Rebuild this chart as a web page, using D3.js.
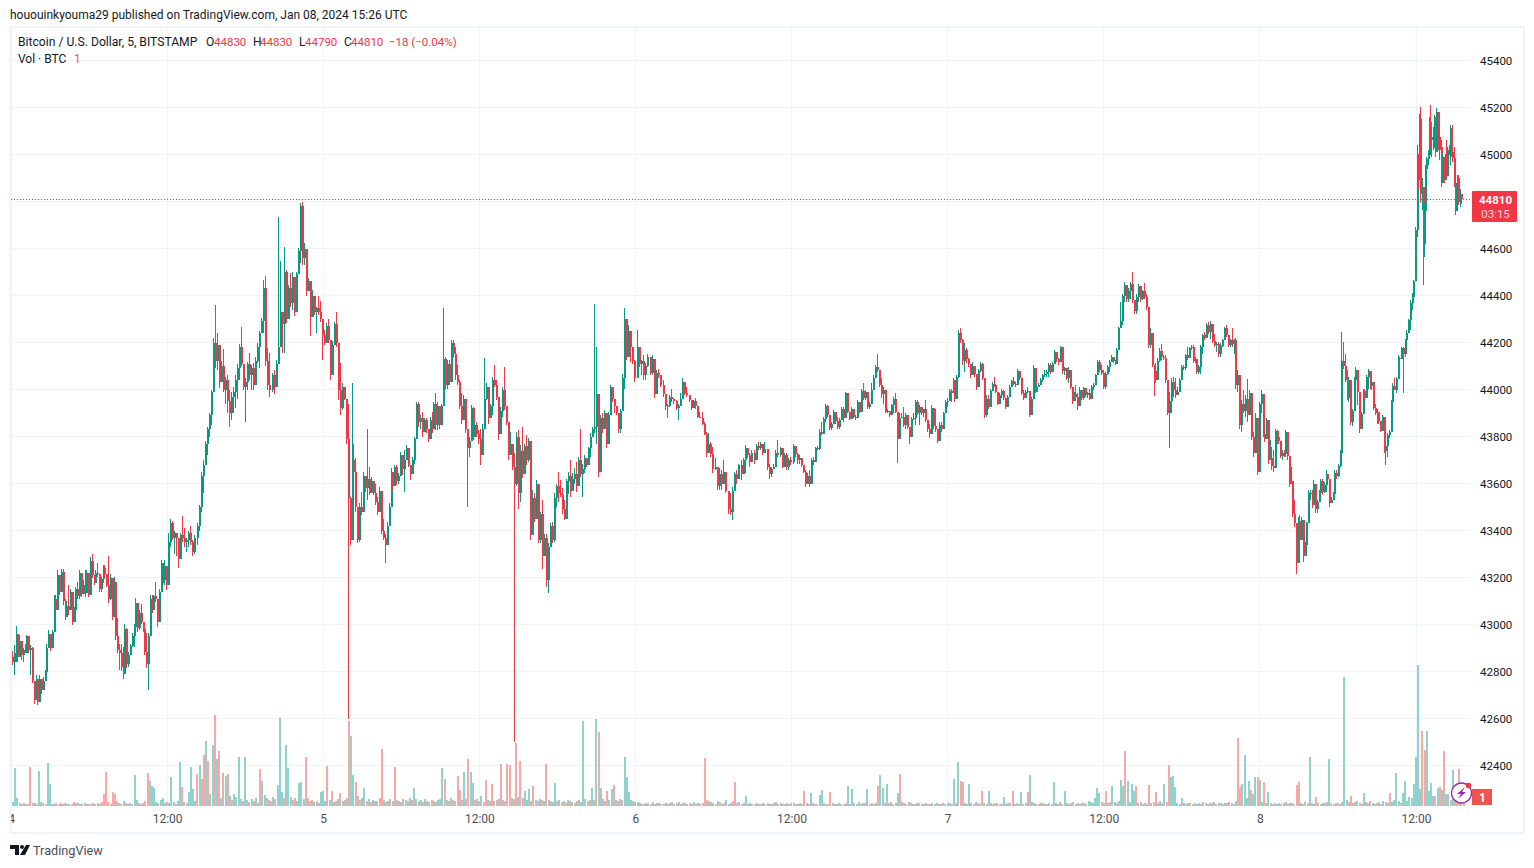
<!DOCTYPE html>
<html>
<head>
<meta charset="utf-8">
<script src="https://cdn.jsdelivr.net/npm/d3@7"></script>
<style>
  html, body { margin: 0; padding: 0; background: #fff; overflow: hidden; }
  text { font-family: Roboto, sans-serif; }
</style>
</head>
<body>
<svg id="chart" width="1534" height="868"></svg>
<script>
// values, one set of arrays per 12 hour stretch
const highsA = [42887,42912,42993,42926,42957,42919,42898,42915,42957,42926,
  42912,42905,42749,42787,42742,42785,42770,42775,42806,42919,
  42976,42933,42976,43125,43125,43231,43175,43238,43238,43110,
  43090,43167,43153,43118,43075,43160,43182,43234,43189,43189,
  43231,43231,43182,43288,43299,43196,43231,43260,43182,43203,
  43252,43252,43203,43291,43217,43125,43203,43075,43026,42919,
  42919,42905,43004,42983,42884,42919,42962,43004,43111,43018,
  43061,43089,43004,42983,42962,42962,43125,43125,43125,43182,
  43097,43153,43274,43231,43274,43238];
const lowsA = [42827,42785,42841,42841,42862,42848,42841,42877,42884,42877,
  42785,42749,42661,42692,42657,42692,42706,42725,42785,42792,
  42905,42888,42926,42976,43047,43097,43125,43182,43082,43018,
  43054,43040,43118,42997,43018,43068,43110,43110,43118,43132,
  43118,43182,43118,43139,43196,43167,43182,43203,43139,43139,
  43175,43203,43160,43090,43104,43018,43061,42933,42877,42806,
  42803,42770,42891,42813,42820,42877,42905,42905,42969,42969,
  42976,43004,42969,42870,42813,42721,42997,43047,43082,43097,
  42990,43097,43167,43175,43167,43146];
const closesA = [42840,42880,42960,42860,42930,42870,42890,42880,42950,42890,
  42900,42760,42680,42770,42670,42770,42720,42760,42800,42900,
  42960,42900,42970,43110,43060,43210,43140,43225,43100,43030,
  43080,43060,43140,43010,43060,43150,43120,43220,43130,43170,
  43135,43220,43125,43270,43210,43175,43220,43215,43150,43195,
  43240,43215,43170,43110,43200,43030,43180,42950,42890,42880,
  42820,42790,42980,42830,42870,42910,42950,42990,43090,42985,
  43050,43010,42980,42885,42830,42950,43110,43060,43120,43110,
  43010,43140,43260,43190,43250,43170];
const volumesA = [4,38,8,3,-2,-3,2,-2,-39,-3,3,-2,
  35,4,-3,2,43,22,2,-2,3,-2,-3,2,
  -3,2,2,-2,-4,3,-3,2,-2,3,-2,2,
  -2,-3,2,3,-2,-4,-12,-34,-4,2,-14,-12,
  -5,3,-2,5,-3,2,3,-2,31,6,-3,2,
  -3,-5,-33,25,20,18,4,-3,6,8,3,-4];

const highsB = [43390,43450,43440,43400,43380,43370,43390,43460,43410,
  43370,43400,43420,43360,43380,43430,43510,43650,43700,
  43780,43840,43900,44000,44219,44360,44240,44155,44122,44172,
  44055,44060,44000,43990,44010,44060,44110,44194,44268,44084,
  44050,44119,44155,44105,44112,44140,44197,44247,44304,44467,
  44484,44176,44155,44070,44084,44126,44736,44547,44304,44608,
  44509,44445,44495,44502,44445,44502,44601,44793,44796,44623,
  44530,44474,44424,44424,44396,44353,44399,44375,
  44240];
const lowsB = [43290,43330,43360,43300,43290,43240,43280,43350,43330,
  43310,43330,43340,43290,43300,43340,43400,43480,43560,
  43680,43720,43800,43850,43999,44091,44084,44006,44041,43990,
  43940,43900,43840,43870,43900,43920,43960,44041,44098,43999,
  43860,43999,44041,43999,43999,44027,44112,44091,44240,44240,
  44098,43999,43970,43990,43980,44041,44126,44311,44155,44155,
  44282,44367,44353,44339,44311,44424,44530,44538,44530,44530,
  44396,44424,44226,44311,44318,44240,44318,44289,
  44126];
const closesB = [43350,43430,43370,43390,43370,43280,43380,43370,43350,
  43360,43390,43350,43310,43370,43420,43500,43630,43680,
  43770,43830,43890,43990,44200,44120,44190,44030,44100,44000,
  44040,43950,43900,43970,43990,44040,44090,44180,44110,44010,
  44030,44110,44060,44090,44020,44120,44180,44240,44290,44430,
  44120,44020,44000,44060,44010,44110,44180,44330,44280,44500,
  44300,44430,44370,44480,44330,44490,44590,44780,44560,44600,
  44420,44460,44310,44400,44330,44345,44330,44300,
  44230];
const volumesB = [3,29,4,-2,5,44,-19,-4,3,14,39,17,
  5,-32,41,-27,-51,65,-45,12,61,-91,47,-55,
  8,-33,30,-32,10,-6,12,9,49,7,-5,49,
  6,-4,7,-5,8,3,-37,25,11,-8,6,-5,
  9,-7,21,88,14,-8,61,38,9,-6,-8,5,
  23,24,7,-49,-8,5,-6,4,-5,3,14,15];

const highsC = [44254,44282,44300,44169,44205,44288,44328,44196,
  44111,44026,44004,43948,43940,43543,44026,43770,43707,43458,
  43515,43565,43650,43614,43834,43671,43629,43593,43600,43543,
  43586,43487,43451,43387,43437,43515,43664,43650,43678,43678,
  43643,43735,43707,43742,43763,43728,43671,43714,43799,43948,
  43948,43891,43905,43877,43877,43834,43884,43905,43948,43983,
  43948,43884,43940,44345,44139,44125,44125,44210,44210,44182,
  44104,44040,43983,43976,43891,43792,43799,43933,43926,43862,
  43862,43827];
const lowsC = [44190,44197,44197,44041,44105,44210,44182,43955,
  43891,43912,43955,43770,42600,43338,43395,43629,43480,43345,
  43352,43465,43529,43565,43529,43550,43572,43550,43508,43465,
  43508,43387,43359,43260,43338,43451,43515,43572,43600,43593,
  43600,43671,43636,43565,43700,43671,43614,43643,43685,43799,
  43841,43834,43799,43834,43813,43777,43799,43813,43884,43827,
  43827,43834,43884,43962,44004,44004,44019,44111,44139,44040,
  44019,43919,43855,43870,43813,43501,43714,43877,43785,43799,
  43799,43770];
const closesC = [44200,44270,44210,44060,44190,44280,44200,44000,
  43920,44010,43960,43790,43540,43360,43700,43650,43500,43360,
  43500,43480,43630,43580,43620,43560,43610,43560,43520,43480,
  43570,43400,43370,43340,43420,43500,43650,43590,43670,43610,
  43630,43720,43660,43700,43750,43680,43640,43700,43790,43940,
  43860,43880,43820,43870,43830,43790,43870,43830,43940,43850,
  43930,43850,43930,44130,44020,44110,44030,44200,44150,44060,
  44030,43930,43870,43960,43830,43750,43780,43920,43800,43850,
  43810,43790];
const volumesC = [5,-40,6,-15,4,-5,7,-13,5,-6,8,-85,
  70,31,-24,10,-6,8,18,-5,7,-4,6,-5,
  5,-8,-57,6,-4,5,-7,5,-39,6,-5,4,
  -7,6,-5,8,-6,18,7,-5,6,-4,7,-5,
  4,-6,5,-4,6,7,38,-27,6,-5,8,-6,
  5,-30,-16,6,34,-7,-47,34,23,-6,7,-5];

const highsD = [43834,43855,44132,44026,43983,43940,44054,44104,44040,43969,
  43926,44011,44096,43912,43848,43820,43742,43728,43820,43827,
  43763,43841,43770,43805,43792,43600,43572,43558,43615,43416,
  43480,43529,43387,43387,43345,43430,43437,43558,43600,43650,
  43614,43579,43529,43621,43650,43702,43643,43664,43692,43714,
  43834,43685,43721,43685,43756,43813,43841,44365,44180,43841,
  43891,43898,43912,43898,43905,44019,43983,43955,43926,43862,
  43919,44068,44345,44288,44274,44196,44153,44125];
const lowsD = [43678,43721,43933,43955,43855,43891,43891,44011,43955,43785,
  43813,43884,43912,43848,43699,43742,43657,42500,43590,43490,
  43522,43622,43707,43678,43693,43359,43387,43437,43488,43345,
  43345,43238,43295,43160,43135,43345,43345,43352,43502,43522,
  43543,43472,43444,43522,43557,43543,43579,43600,43565,43600,
  43628,43543,43643,43671,43742,43714,43813,43813,43770,43629,
  43785,43813,43848,43749,43848,43926,43948,43898,43891,43813,
  43813,43919,44004,44125,44160,44118,44110,44033];
const closesD = [43720,43830,43960,44010,43880,43930,44040,44020,43970,43810,
  43910,44000,43930,43860,43720,43770,43670,43600,43800,43560,
  43740,43640,43760,43700,43780,43380,43540,43450,43600,43360,
  43470,43290,43370,43190,43330,43420,43360,43540,43590,43560,
  43550,43490,43450,43610,43630,43570,43620,43640,43590,43700,
  43640,43660,43710,43680,43750,43800,43830,43840,43980,43650,
  43880,43830,43900,43770,43890,44010,43960,43930,43900,43830,
  43910,44050,44300,44140,44250,44180,44120,44050];
const volumesD = [10,-4,-26,6,-5,-22,5,-6,7,-42,6,-5,
  -42,-41,8,-7,-63,9,-45,-8,15,6,17,-5,
  -20,6,-5,7,-6,5,-42,6,-5,4,23,-5,
  6,-4,5,-3,6,-5,4,-3,5,-6,4,85,
  7,-5,6,18,-6,87,-74,18,7,-5,-15,6,
  17,-21,6,-5,7,-6,49,29,14,6,-5,4];

const highsE = [44252,44167,44125,44146,44111,44153,44118,44146,44054,44082,
  44089,44061,44040,43976,43940,43976,44004,43962,43955,43940,
  43983,44051,44004,44009,43976,43933,43955,43962,
  43919,43905,43905,43862,43820,43813,43777,43756,43707,43664,
  43664,43657,43700,43650,43529,43558,43586,43650,43657,43685,
  43700,43707,43763,43749,43728,43742,43742,43770,43777,43777,
  43756,43777,43707,43685,43671,43685,43742,43787,43756,43700,
  43728,43731,43707,43714];
const lowsE = [44167,44096,44061,44040,44040,44096,44061,44061,43962,44019,
  44047,44011,43969,43912,43877,43926,43948,43940,43912,43870,
  43955,43983,43976,43969,43948,43912,43926,43919,
  43877,43877,43848,43806,43714,43756,43714,43643,43657,43572,
  43572,43572,43636,43558,43472,43465,43444,43600,43600,43643,
  43614,43657,43643,43707,43671,43700,43685,43728,43742,43742,
  43721,43742,43657,43621,43629,43664,43700,43714,43714,43664,
  43700,43657,43657,43678];
const closesE = [44180,44110,44120,44060,44100,44140,44070,44130,43980,44070,
  44060,44020,43980,43930,43930,43970,43960,43950,43920,43930,
  43960,44030,43985,43975,43955,43920,43950,43930,
  43885,43880,43855,43810,43730,43770,43725,43660,43670,43590,
  43640,43600,43650,43570,43490,43480,43570,43640,43620,43680,
  43640,43700,43750,43720,43690,43730,43700,43760,43750,43770,
  43730,43745,43670,43640,43660,43670,43730,43720,43750,43670,
  43720,43670,43700,43690];
const volumesE = [4,-3,2,-2,3,-3,2,4,-2,3,-3,2,
  -2,3,2,-3,4,-2,3,-4,2,-3,3,-2,
  -3,2,4,-2,-3,-2,3,-48,-6,5,-4,3,
  -2,5,-4,2,-3,6,-2,3,-5,-24,-3,4,
  -2,3,10,-2,3,-2,2,-3,2,-2,3,-2,
  3,-2,2,-3,4,-2,3,-2,2,-3,2,-3];

const highsF = [43770,43749,43728,43721,43707,43671,43657,43643,43657,43707,
  43714,43756,43759,43834,43862,43884,43940,43933,43862,43862,
  43912,43891,43884,43877,43926,43926,43990,43983,43905,43926,
  43912,43891,43955,43919,44004,44026,43997,43976,43948,44026,
  44061,44104,44150,44075,44047,44011,43926,43919,43898,43940,
  43969,43983,43855,43898,43898,43926,43898,43870,43827,43884,
  43898,43955,43955,43933,43926,43919,43955,43855,43855,43933,
  43877,43919,43827,43862,43862,43905,43955,43962];
const lowsF = [43685,43714,43685,43685,43671,43643,43586,43607,43586,43657,
  43678,43714,43742,43742,43806,43834,43862,43884,43827,43827,
  43855,43855,43834,43834,43870,43862,43926,43898,43870,43884,
  43877,43870,43898,43898,43948,43955,43955,43919,43919,43997,
  43997,44047,44075,44011,43962,43940,43898,43898,43884,43898,
  43898,43898,43688,43792,43877,43841,43834,43834,43770,43813,
  43870,43848,43891,43848,43891,43884,43862,43820,43792,43855,
  43834,43820,43773,43785,43820,43855,43898,43926];
const closesF = [43760,43725,43700,43710,43680,43650,43600,43630,43600,43700,
  43690,43750,43745,43820,43810,43875,43930,43890,43835,43855,
  43905,43865,43840,43870,43915,43880,43985,43905,43875,43915,
  43885,43880,43945,43905,43995,43965,43990,43925,43940,44000,
  44050,44095,44085,44020,43980,44000,43905,43910,43890,43935,
  43960,43905,43790,43880,43885,43850,43890,43840,43800,43875,
  43880,43945,43900,43925,43900,43915,43870,43830,43810,43920,
  43845,43830,43780,43850,43830,43900,43945,43950];
const volumesF = [3,-2,2,-3,2,-15,3,-2,13,-3,2,-2,
  11,16,-3,2,-2,-14,3,-2,2,-3,2,-2,
  3,20,-2,17,3,-2,4,-2,3,-3,17,-2,
  3,-2,3,-20,31,18,-3,22,-3,4,-2,3,
  13,-32,-4,3,-2,4,-3,2,-2,3,-3,2,
  -2,3,-2,2,-3,2,3,-2,2,-3,2,3];

const highsG = [44004,44004,44047,44033,44061,44252,44260,44217,44196,44175,
  44132,44104,44118,44075,44061,44089,44118,44111,44033,43976,
  43976,44004,44033,44054,44004,43983,43983,44004,43997,43955,
  43976,44019,44040,44054,44033,44087,44075,44026,43997,43997,
  44011,43933,43969,44104,44019,44019,44026,44047,44068,44082,
  44082,44111,44111,44118,44167,44153,44132,44185,44139,44097,
  44068,44097,44033,44011,43990,44019,43983,44011,43990,44011,
  43990,43990,44004,44019,44026,44068,44125,44125,44104,44082];
const lowsG = [43983,43948,43997,43948,44040,44047,44196,44104,44075,44111,
  44096,44047,44082,44054,43997,44054,44075,44040,43877,43884,
  43919,43962,44004,44011,43983,43933,43955,43962,43955,43919,
  43940,43997,44019,44019,44011,44047,44040,43976,43955,43976,
  43983,43881,43940,43983,43983,43990,44011,44019,44033,44054,
  44054,44054,44068,44089,44111,44118,44104,44153,44068,44061,
  44040,44026,44004,43940,43955,43962,43912,43955,43955,43955,
  43969,43962,43955,43990,43997,44026,44061,44075,44061,44004];
const closesG = [43995,43985,44040,43960,44055,44240,44210,44120,44170,44130,
  44110,44060,44100,44065,44010,44080,44110,44050,43890,43960,
  43925,43995,44025,44020,43990,43940,43975,43995,43965,43925,
  43970,44010,44035,44025,44020,44080,44050,43985,43965,43990,
  43995,43890,43960,44090,43990,44010,44020,44040,44060,44065,
  44075,44105,44075,44110,44160,44130,44115,44180,44080,44090,
  44050,44085,44010,43950,43980,43970,43930,44000,43965,44005,
  43975,43985,43960,44010,44020,44060,44115,44085,44070,44010];
const volumesG = [3,-2,27,-3,44,-25,-24,3,-2,22,3,-2,
  4,-3,2,-15,3,-2,15,-3,2,-3,3,-2,
  2,9,-2,3,-3,-15,2,-3,2,14,-2,3,
  -14,31,4,-3,2,-2,3,-3,2,-2,3,-2,
  24,3,-2,4,-2,15,-3,2,-3,4,-2,3,
  -2,3,-3,2,5,4,3,8,18,13,-4,3];

const highsH = [44075,44104,44125,44146,44132,44125,44175,44267,44373,44408,
  44458,44401,44430,44458,44499,44373,44408,44448,44423,44423,
  44455,44408,44338,44260,44196,44099,44111,44132,44175,44193,
  44146,44146,44033,43990,44047,44054,44047,44011,44047,44104,
  44104,44153,44182,44182,44189,44189,44139,44111,44104,44189,
  44238,44245,44281,44288,44290,44231,44238,44203,44203,44196,
  44217,44267,44274,44217,44217,44260,44217,44221,44082,44004,
  43955,43997,43976,44043,43997,43891,43820,43898,43799,43948];
const lowsH = [44004,44061,44075,44118,44111,44104,44146,44182,44274,44274,
  44373,44373,44373,44387,44366,44323,44323,44373,44373,44380,
  44387,44338,44175,44175,44097,43972,44026,44040,44118,44125,
  44125,44026,43891,43752,43898,43969,43962,43983,44004,44040,
  44082,44082,44125,44132,44167,44111,44111,44068,44068,44068,
  44153,44210,44224,44238,44217,44196,44182,44160,44139,44139,
  44182,44210,44224,44182,44182,44182,44153,44004,43990,43834,
  43820,43898,43884,43862,43933,43785,43714,43763,43636,43870];
const closesH = [44065,44095,44115,44140,44120,44110,44170,44260,44290,44400,
  44445,44385,44420,44450,44380,44335,44395,44440,44385,44420,
  44395,44350,44190,44240,44105,44080,44040,44120,44165,44140,
  44135,44040,43900,43950,44030,44000,43975,43990,44040,44095,
  44090,44145,44135,44175,44180,44120,44130,44075,44095,44180,
  44230,44220,44275,44245,44280,44205,44190,44195,44150,44185,
  44210,44260,44230,44190,44210,44195,44210,44020,44060,43850,
  43940,43910,43960,43890,43985,43800,43730,43880,43650,43940];
const volumesH = [-15,3,-4,20,4,-3,5,26,20,-55,25,4,
  22,15,-20,3,-4,2,3,-2,-21,3,-4,-14,
  3,5,-3,22,-4,-41,29,30,19,3,-2,8,
  3,-2,3,-3,2,-3,2,3,-2,4,-3,2,
  3,-3,4,-2,3,-3,2,3,-3,-4,3,-2,
  5,-68,-19,22,51,8,25,-16,12,29,-29,26];

const highsI = [43997,43862,43855,43877,43827,43785,43756,43742,43834,43827,
  43816,43742,43742,43742,43827,43742,43700,43671,43586,43530,
  43423,43459,43466,43459,43395,43352,43437,43572,43572,43572,
  43614,43579,43529,43572,43621,43621,43607,43657,43636,43593,
  43543,43565,43657,43657,43685,43742,44243,44203,44153,44082,
  44054,43933,43919,44054,44096,44047,43884,43905,44004,44004,
  44061,44089,44075,44040,43955,43940,43919,43870,
  43855,43891,43813,43770,43813,43827,43955,44026,44047,44054,
  44146,44139,44182,44182,44217,44252,44302,44380,44409,44466,
  44693];
const lowsI = [43898,43799,43777,43813,43685,43700,43657,43650,43721,43770,
  43770,43707,43700,43714,43714,43700,43586,43600,43459,43416,
  43217,43331,43345,43402,43267,43296,43324,43444,43529,43494,
  43515,43473,43473,43536,43558,43551,43558,43565,43607,43501,
  43522,43529,43543,43621,43629,43671,43700,44089,44033,43955,
  43948,43848,43844,43983,44026,43933,43816,43848,43919,43955,
  44004,44004,44004,43997,43912,43891,43855,43855,
  43820,43834,43731,43678,43714,43792,43827,43969,43997,43983,
  44061,44061,44153,43983,44139,44189,44252,44252,44340,44409,
  44466];
const closesI = [43980,43810,43790,43870,43700,43710,43675,43665,43825,43800,
  43780,43715,43730,43725,43820,43715,43600,43610,43470,43430,
  43260,43440,43360,43445,43290,43340,43430,43560,43560,43510,
  43600,43490,43520,43560,43610,43565,43595,43640,43620,43515,
  43530,43555,43645,43630,43675,43730,44120,44100,44040,43965,
  44040,43860,43910,44040,44085,43990,43830,43895,43995,43965,
  44055,44080,44015,44030,43920,43900,43905,43865,
  43825,43885,43740,43760,43805,43820,43945,44015,44000,44045,
  44135,44130,44175,44150,44210,44240,44295,44370,44395,44460,
  44680];
const volumesI = [4,-24,3,14,-3,2,-3,2,3,-2,3,-4,
  2,3,-3,2,-21,-24,3,-2,4,-3,49,3,
  -2,-9,3,-2,3,-3,4,47,-3,2,-3,3,
  -2,4,129,6,-4,-10,3,-4,5,-3,2,13,
  -4,3,-5,3,2,-3,4,-2,5,-4,3,-13,
  4,6,33,5,-3,13,25,5,9,8,22,49];

const highsJ = [45040,45004,45172,45203,44898,44806,44792,44955,44990,45018,
  45160,45210,45089,45118,45167,45160,45200,45160,45089,45075,
  44997,45004,44976,45004,45061,45033,45040,45125,45111,45125,
  45033,44919,44877,44912,44912,44855,44830];
const lowsJ = [44650,44855,44933,44792,44763,44444,44565,44770,44855,44955,
  44990,45026,44990,45018,45026,44990,45033,45018,44976,45018,
  44862,44919,44877,44919,44898,44919,44997,44955,44990,44969,
  44862,44742,44777,44792,44784,44777,44790];
const closesJ = [44980,44890,45150,44830,44860,44620,44760,44940,44980,45000,
  45140,45060,45075,45050,45150,45010,45180,45030,45060,45030,
  44880,44990,44890,44995,44910,45020,45025,45110,45010,44985,
  44880,44760,44860,44900,44800,44830,44810];
const volumesJ = [141,17,-75,-56,75,15,23,10,-10,18,-19,16,-55,12,12,-6,36,9,-10,-37,8,-4];

const firstOpen = 42860;
const blockHours = [12,12,12,12,12,12,12,12,12,3.5];
const priceTicks = [45400,45200,45000,44800,44600,44400,44200,44000,43800,43600,43400,43200,43000,42800,42600,42400];
const timeTickHours = [0,12,24,36,48,60,72,84,96,108];
const timeTickLabels = ["4","12:00","5","12:00","6","12:00","7","12:00","8","12:00"];
const lastPrice = 44810;

const highBlocks = [highsA,highsB,highsC,highsD,highsE,highsF,highsG,highsH,highsI,highsJ];
const lowBlocks = [lowsA,lowsB,lowsC,lowsD,lowsE,lowsF,lowsG,lowsH,lowsI,lowsJ];
const closeBlocks = [closesA,closesB,closesC,closesD,closesE,closesF,closesG,closesH,closesI,closesJ];
const volumeBlocks = [volumesA,volumesB,volumesC,volumesD,volumesE,volumesF,volumesG,volumesH,volumesI,volumesJ];

const GREEN = "#089981", RED = "#f23645", GRID = "#f0f3fa", TEXT = "#131722";
const UP_VOL = "#92d2cc", DOWN_VOL = "#f7a9a7";

// lay bars out evenly inside each stretch of time
let candles = [], volumeBars = [], startHour = 0, prevClose = firstOpen;
closeBlocks.forEach(function(closes, b) {
  const n = Math.min(closes.length, highBlocks[b].length, lowBlocks[b].length);
  for (let j = 0; j < n; j++) {
    candles.push({
      hour: startHour + (j + 0.5) / n * blockHours[b],
      open: prevClose, high: highBlocks[b][j], low: lowBlocks[b][j], close: closes[j]
    });
    prevClose = closes[j];
  }
  volumeBlocks[b].forEach(function(v, j) {
    volumeBars.push({hour: startHour + (j + 0.5) * 12 / 72, vol: Math.abs(v), up: v >= 0});
  });
  startHour += blockHours[b];
});

const svg = d3.select("#chart");
const x = d3.scaleLinear().domain([0, 108]).range([11, 1416]);
const y = d3.scaleLinear().domain([45400, 42400]).range([60.5, 765.5]);
const yVol = d3.scaleLinear().domain([0, 141]).range([805.5, 664.5]);

svg.append("defs").append("clipPath").attr("id", "pane")
  .append("rect").attr("x", 11).attr("y", 28).attr("width", 1461).attr("height", 804);

// frame
svg.append("rect").attr("x", 10.5).attr("y", 27).attr("width", 1513.5).attr("height", 806)
  .attr("fill", "none").attr("stroke", GRID).attr("stroke-width", 2);

const pane = svg.append("g").attr("clip-path", "url(#pane)");

// grid
pane.selectAll("line.h").data(priceTicks).enter().append("line")
  .attr("x1", 11).attr("x2", 1471)
  .attr("y1", d => Math.floor(y(d)) + 0.5).attr("y2", d => Math.floor(y(d)) + 0.5)
  .attr("stroke", GRID);
pane.selectAll("line.v").data(timeTickHours).enter().append("line")
  .attr("y1", 28).attr("y2", 806)
  .attr("x1", d => Math.floor(x(d)) + 0.5).attr("x2", d => Math.floor(x(d)) + 0.5)
  .attr("stroke", GRID);

// volume
pane.selectAll("rect.vol").data(volumeBars).enter().append("rect")
  .attr("class", "vol").attr("shape-rendering", "crispEdges")
  .attr("x", d => Math.round(x(d.hour))).attr("width", 2)
  .attr("y", d => yVol(d.vol)).attr("height", d => yVol(0) - yVol(d.vol))
  .attr("fill", d => d.up ? UP_VOL : DOWN_VOL);

// last price line
pane.append("line").attr("x1", 11).attr("x2", 1471)
  .attr("y1", Math.floor(y(lastPrice)) + 0.5).attr("y2", Math.floor(y(lastPrice)) + 0.5)
  .attr("stroke", RED).attr("stroke-dasharray", "1,2");

// candles
const candle = pane.selectAll("g.candle").data(candles).enter().append("g")
  .attr("shape-rendering", "crispEdges")
  .attr("fill", d => d.close >= d.open ? GREEN : RED);
candle.append("rect")
  .attr("x", d => Math.round(x(d.hour))).attr("width", 1)
  .attr("y", d => y(d.high)).attr("height", d => y(d.low) - y(d.high));
candle.append("rect")
  .attr("x", d => Math.round(x(d.hour))).attr("width", 2)
  .attr("y", d => y(Math.max(d.open, d.close)))
  .attr("height", d => Math.max(1, Math.abs(y(d.open) - y(d.close))));

// price axis
const priceAxis = d3.axisRight(y).tickValues(priceTicks).tickSize(0).tickPadding(0).tickFormat(d3.format("d"));
const priceG = svg.append("g").attr("transform", "translate(1480,0)").call(priceAxis);
priceG.select(".domain").remove();
priceG.selectAll("text").attr("fill", TEXT).style("font-size", "11.5px");

// time axis
const timeAxis = d3.axisBottom(x).tickValues(timeTickHours).tickSize(0).tickPadding(0)
  .tickFormat((d, i) => timeTickLabels[i]);
const timeClip = svg.append("g").attr("clip-path", "url(#pane)");
const timeG = timeClip.append("g").attr("transform", "translate(0,814)").call(timeAxis);
timeG.select(".domain").remove();
timeG.selectAll("text").attr("fill", "#4a4e5a").style("font-size", "12px");

// current price tag
svg.append("rect").attr("x", 1472).attr("y", 191).attr("width", 45).attr("height", 31).attr("rx", 1).attr("fill", RED);
svg.append("text").attr("x", 1495.5).attr("y", 204).attr("text-anchor", "middle").attr("fill", "#fff")
  .attr("font-size", 11.5).attr("font-weight", 700).text("44810");
svg.append("text").attr("x", 1495.5).attr("y", 218).attr("text-anchor", "middle").attr("fill", "#fcd5d9")
  .attr("font-size", 11.5).text("03:15");

// volume tag
svg.append("rect").attr("x", 1472).attr("y", 789).attr("width", 20).attr("height", 16).attr("fill", "#ef5350");
svg.append("text").attr("x", 1482.5).attr("y", 802).attr("text-anchor", "middle").attr("fill", "#fff")
  .attr("font-size", 12).attr("font-weight", 700).text("1");

// lightning badge
svg.append("circle").attr("cx", 1461.5).attr("cy", 793).attr("r", 10).attr("fill", "#fff")
  .attr("stroke", "#9c27b0").attr("stroke-width", 1.3);
svg.append("path").attr("d", "M1465,787 L1457,794 L1461,794 L1458,799 L1466,792 L1462,792 Z").attr("fill", "#9c27b0");
svg.append("circle").attr("cx", 1468.5).attr("cy", 785.5).attr("r", 2.8).attr("fill", RED);

// header and legend
svg.append("text").attr("x", 10).attr("y", 19).attr("fill", TEXT).attr("font-size", 12)
  .text("hououinkyouma29 published on TradingView.com, Jan 08, 2024 15:26 UTC");

const legend = [
  [18, "Bitcoin / U.S. Dollar, 5, BITSTAMP", TEXT, 12.15],
  [206, "O", TEXT, 12], [214, "44830", RED, 11.5],
  [253, "H", TEXT, 12], [260, "44830", RED, 11.5],
  [299, "L", TEXT, 12], [305, "44790", RED, 11.5],
  [344, "C", TEXT, 12], [351, "44810", RED, 11.5],
  [389, "\u221218 (\u22120.04%)", RED, 11.5]
];
svg.selectAll("text.legend").data(legend).enter().append("text")
  .attr("x", d => d[0]).attr("y", 46).attr("font-size", d => d[3]).attr("fill", d => d[2]).text(d => d[1]);
svg.append("text").attr("x", 18).attr("y", 63).attr("font-size", 12).attr("fill", TEXT).text("Vol \u00b7 BTC");
svg.append("text").attr("x", 74).attr("y", 63).attr("font-size", 12).attr("fill", "#ef5350").text("1");

// footer logo
svg.append("path").attr("d", "M10,845 H19 V855 H15 V849 H10 Z M26,845 H30 L25,855 H20 Z").attr("fill", "#131722");
svg.append("circle").attr("cx", 22).attr("cy", 847).attr("r", 2).attr("fill", "#131722");
svg.append("text").attr("x", 33).attr("y", 855).attr("font-size", 12.7).attr("fill", "#4a4e5a").text("TradingView");
</script>
</body>
</html>
